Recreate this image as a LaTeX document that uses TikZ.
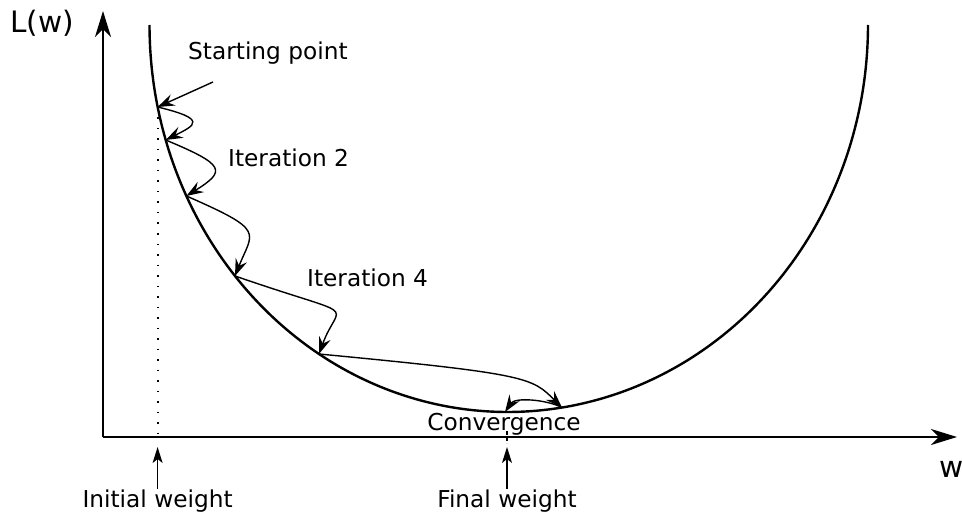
\documentclass[tikz,border=0pt]{standalone}
\usepackage{fontspec}
\setmainfont{DejaVu Sans}
\usetikzlibrary{arrows.meta}
\tikzset{
  lbl/.style={inner sep=0pt, font=\fontsize{23.25}{28}\selectfont},
  biglbl/.style={inner sep=0pt, font=\fontsize{29.5}{34}\selectfont},
  axisline/.style={line width=2.2pt, -{Stealth[length=26pt,width=16pt,inset=8pt]}},
  lossline/.style={line width=2.4pt},
  steparrow/.style={line width=1.4pt, -{Stealth[length=17pt,width=12pt,inset=6pt]}},
  markarrow/.style={line width=1.4pt, -{Stealth[length=16pt,width=10pt,inset=4pt]}},
  guide/.style={line width=1.8pt, dash pattern=on 1.5pt off 9pt},
  shortdash/.style={line width=1.4pt, dash pattern=on 4pt off 2pt}
}
\begin{document}
\begin{tikzpicture}[x=1pt,y=-1pt]
\useasboundingbox (0,0) rectangle (962,516);
% axes
\coordinate (O) at (103,437);
\coordinate (xend) at (957,437);
\coordinate (yend) at (103,11);
\draw[axisline] (O) -- (xend);
\draw[axisline] (O) -- (yend);
\node[biglbl, anchor=base west] (Lw) at (10,33) {L(w)};
\node[biglbl, anchor=base west] (wl) at (939,477) {w};
% loss curve (right and left quarter ellipses)
\draw[lossline] plot[domain=0:90, samples=100] ({507.5+360.5*cos(\x)},{25+387*sin(\x)})
  -- plot[domain=90:180, samples=100] ({507.5+358*cos(\x)},{25+387*sin(\x)});
% points on curve
\coordinate (p1) at (157.6,107);
\coordinate (p2) at (165.7,140);
\coordinate (p3) at (186.4,196);
\coordinate (p4) at (235,276);
\coordinate (p5) at (319,354);
\coordinate (p6) at (562,407.6);
\coordinate (p7) at (505,412);
\coordinate (sp) at (213,82);
% guide lines
\draw[guide] (p1) -- (p1 |- O);
\coordinate (cd1) at (507,431);
\coordinate (cd2) at (507,443);
\draw[shortdash] (cd1) -- (cd2);
% step arrows
\draw[steparrow] (sp) -- (p1);
\draw[steparrow] (p1) .. controls +(50,12) and +(30,-15) .. (p2);
\draw[steparrow] (p2) .. controls +(60,25) and +(40,-25) .. (p3);
\draw[steparrow] (p3) .. controls +(80,35) and +(18,-45) .. (p4);
\draw[steparrow] (p4) .. controls +(130,45) and +(20,-55) .. (p5);
\draw[steparrow] (p5) .. controls +(210,20) and +(-30,-30) .. (p6);
\draw[steparrow] (p6) .. controls +(-15,-8) and +(10,-15) .. (p7);
% labels
\node[lbl, anchor=base west] (start) at (188,60) {Starting point};
\node[lbl, anchor=base west] (it2) at (228,167) {Iteration 2};
\node[lbl, anchor=base west] (it4) at (307,286) {Iteration 4};
\node[lbl, anchor=base] (conv) at (504,430) {Convergence};
\node[lbl, anchor=base] (init) at (157.6,507) {Initial weight};
\node[lbl, anchor=base] (final) at (507,507) {Final weight};
\coordinate (iw) at (157.6,447);
\coordinate (fw) at (507,447);
\draw[markarrow] (init.north) -- (iw);
\draw[markarrow] (final.north) -- (fw);
\end{tikzpicture}
\end{document}
